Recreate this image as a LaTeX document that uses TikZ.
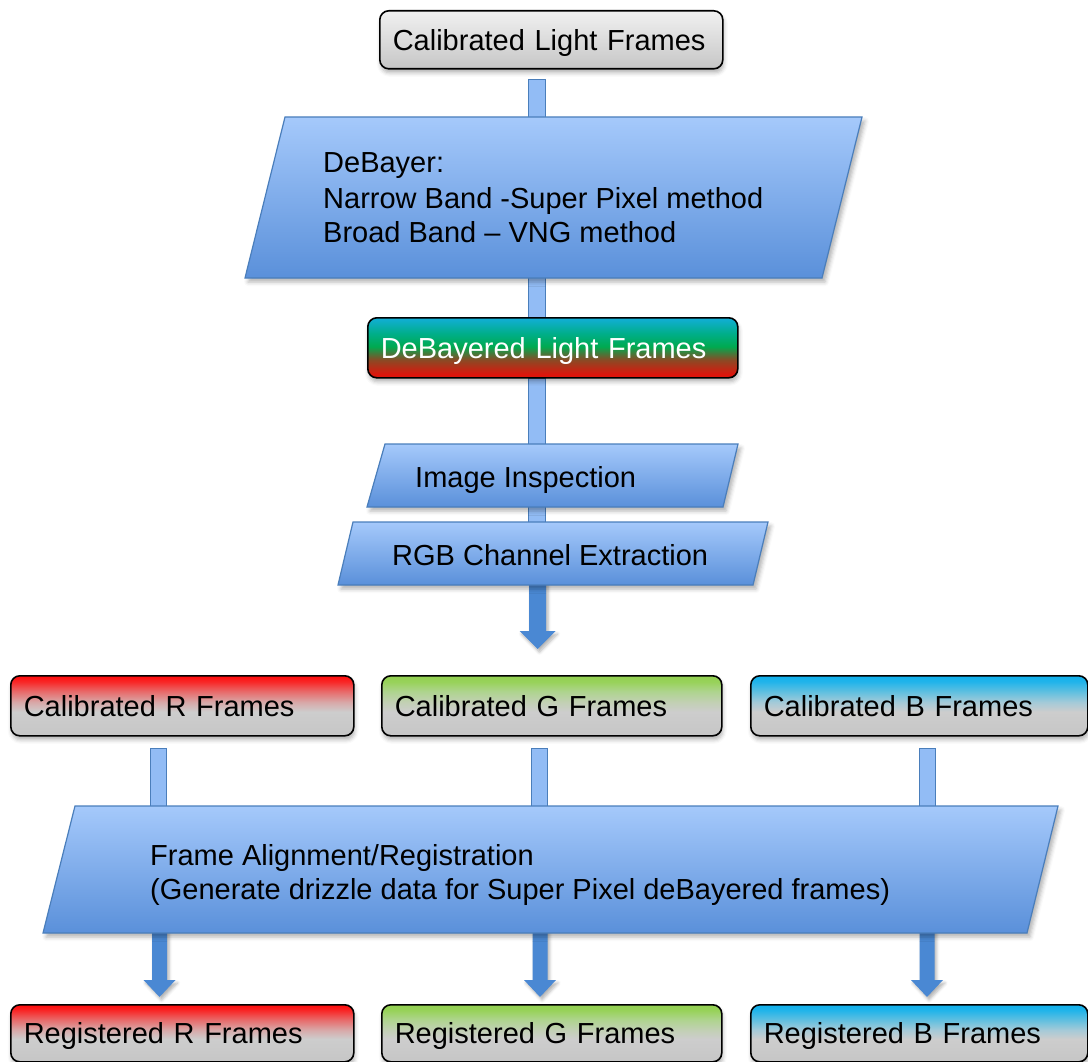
\documentclass[tikz,border=0pt]{standalone}
\usepackage{fontspec}
\setmainfont{Liberation Sans}
\usetikzlibrary{calc,shadows.blur}
\definecolor{gTop}{HTML}{F1F1F1}
\definecolor{gBot}{HTML}{C6C6C6}
\definecolor{gMid}{HTML}{CDCDCD}
\definecolor{rTop}{HTML}{FF0A0A}
\definecolor{rHi}{HTML}{F82828}
\definecolor{rMid}{HTML}{E86A6A}
\definecolor{rLow}{HTML}{D8A8A8}
\definecolor{grTop}{HTML}{92D050}
\definecolor{grHi}{HTML}{98D25A}
\definecolor{grMid}{HTML}{AED48E}
\definecolor{grLow}{HTML}{C2D0B4}
\definecolor{blTop}{HTML}{0FB0EC}
\definecolor{blHi}{HTML}{22B4EA}
\definecolor{blMid}{HTML}{5EBFE0}
\definecolor{blLow}{HTML}{A4CAD8}
\definecolor{dCyan}{HTML}{12AED8}
\definecolor{dTeal}{HTML}{00AE8A}
\definecolor{dGreen}{HTML}{00AA50}
\definecolor{dBrown}{HTML}{8A4A25}
\definecolor{dRed}{HTML}{DC160C}
\definecolor{pTop}{HTML}{A5C9FB}
\definecolor{pBot}{HTML}{5A90DA}
\definecolor{pEdge}{HTML}{4A7EBB}
\definecolor{barC}{HTML}{92BCF5}
\definecolor{arrC}{HTML}{4A88D3}
\pgfdeclareverticalshading{grayshade}{100bp}{color(0bp)=(gBot); color(25bp)=(gBot); color(75bp)=(gTop); color(100bp)=(gTop)}
\pgfdeclareverticalshading{redshade}{100bp}{color(0bp)=(gBot); color(25bp)=(gBot); color(45bp)=(gMid); color(53bp)=(rLow); color(62bp)=(rMid); color(70bp)=(rHi); color(75bp)=(rTop); color(100bp)=(rTop)}
\pgfdeclareverticalshading{greenshade}{100bp}{color(0bp)=(gBot); color(25bp)=(gBot); color(45bp)=(gMid); color(53bp)=(grLow); color(62bp)=(grMid); color(70bp)=(grHi); color(75bp)=(grTop); color(100bp)=(grTop)}
\pgfdeclareverticalshading{blueshade}{100bp}{color(0bp)=(gBot); color(25bp)=(gBot); color(45bp)=(gMid); color(53bp)=(blLow); color(62bp)=(blMid); color(70bp)=(blHi); color(75bp)=(blTop); color(100bp)=(blTop)}
\pgfdeclareverticalshading{rgbshade}{100bp}{color(0bp)=(dRed); color(28bp)=(dRed); color(40bp)=(dBrown); color(51bp)=(dGreen); color(62bp)=(dTeal); color(75bp)=(dCyan); color(100bp)=(dCyan)}
\pgfdeclarelayer{bg}
\pgfsetlayers{bg,main}
\tikzset{
  rbox/.style={draw=black, line width=1.6pt, rounded corners=9pt, inner xsep=13pt, inner ysep=0pt,
    text height=21pt, text depth=0pt, align=left, anchor=north west,
    blur shadow={shadow xshift=1pt, shadow yshift=-4pt, shadow opacity=30, shadow blur radius=4pt}},
  para/.style={draw=pEdge, line width=1.2pt, top color=pTop, bottom color=pBot,
    blur shadow={shadow xshift=3pt, shadow yshift=-4pt, shadow opacity=30, shadow blur radius=4pt}},
  ptext/.style={anchor=base west, inner sep=0pt},
  bar/.style={draw=pEdge, line width=1pt, fill=barC},
  bigarrow/.style={fill=arrC, draw=none,
    blur shadow={shadow xshift=2pt, shadow yshift=-3pt, shadow opacity=30, shadow blur radius=3pt}},
}
\begin{document}
\begin{tikzpicture}[x=1pt,y=-1pt,font=\fontsize{29}{35}\selectfont]
\useasboundingbox (0,0) rectangle (1088,1062);

% rounded boxes
\node[rbox, shading=grayshade, text width=317pt, minimum height=58pt] (clf) at (379,10) {Calibrated Light Frames};
\node[rbox, shading=rgbshade, text=white, text width=344pt, minimum height=60pt] (dlf) at (367,317) {DeBayered Light Frames};
\node[rbox, shading=redshade, text width=317pt, minimum height=60pt] (crf) at (10,675) {Calibrated R Frames};
\node[rbox, shading=greenshade, text width=314pt, minimum height=60pt] (cgf) at (381,675) {Calibrated G Frames};
\node[rbox, shading=blueshade, text width=311pt, minimum height=60pt] (cbf) at (750,675) {Calibrated B Frames};
\node[rbox, shading=redshade, text width=317pt, minimum height=57pt] (rrf) at (10,1004) {Registered R Frames};
\node[rbox, shading=greenshade, text width=314pt, minimum height=57pt] (rgf) at (381,1004) {Registered G Frames};
\node[rbox, shading=blueshade, text width=311pt, minimum height=57pt] (rbf) at (750,1004) {Registered B Frames};

% parallelograms
\path[para] (285,117) -- (862,117) -- (822,278) -- (245,278) -- cycle;
\node[ptext] (db1) at (323,173) {DeBayer:};
\node[ptext] (db2) at (323,208) {Narrow Band -Super Pixel method};
\node[ptext] (db3) at (323,242) {Broad Band – VNG method};

\path[para] (385,444) -- (738,444) -- (723,507) -- (367,507) -- cycle;
\node[ptext] (ii) at (415,487) {Image Inspection};

\path[para] (353,522) -- (768,522) -- (753,585) -- (338,585) -- cycle;
\node[ptext] (rgb) at (392,565) {RGB Channel Extraction};

\path[para] (75,806) -- (1058,806) -- (1027,933) -- (43,933) -- cycle;
\node[ptext] (fa1) at (150,865) {Frame Alignment/Registration};
\node[ptext] (fa2) at (150,899) {(Generate drizzle data for Super Pixel deBayered frames)};

% connector end points
\coordinate (dbT) at (536.5,117);
\coordinate (dbB) at (536.5,278);
\coordinate (rgbT) at (536.5,522);
\coordinate (rgbB) at (537.5,585);
\coordinate (aTip) at (537.5,649);
\coordinate (faR) at (158,806);
\coordinate (faG) at (539.5,806);
\coordinate (faB) at (927,806);
\coordinate (fbR) at (159.5,933);
\coordinate (fbG) at (540,933);
\coordinate (fbB) at (927,933);
\coordinate (tR) at (159.5,997);
\coordinate (tG) at (540,997);
\coordinate (tB) at (927,997);

\begin{pgfonlayer}{bg}
\path[bar] ($(clf.south -| dbT)+(-8.5,10)$) rectangle ($(dbT)+(8.5,6)$);
\path[bar] ($(dbB)+(-8.5,-6)$) rectangle ($(dlf.north -| dbB)+(8.5,0)$);
\path[bar] ($(dlf.south -| dbB)+(-8.5,0)$) rectangle ($(rgbT)+(8.5,6)$);
\path[bar] ($(crf.south -| faR)+(-8,12)$) rectangle ($(faR)+(8,6)$);
\path[bar] ($(cgf.south -| faG)+(-8,12)$) rectangle ($(faG)+(8,6)$);
\path[bar] ($(cbf.south -| faB)+(-8,12)$) rectangle ($(faB)+(8,6)$);
\path[bigarrow] ($(rgbB)+(-8.5,-6)$) -- ($(aTip)+(-8.5,-18)$) -- ($(aTip)+(-18,-18)$) -- (aTip)
  -- ($(aTip)+(18,-18)$) -- ($(aTip)+(8.5,-18)$) -- ($(rgbB)+(8.5,-6)$) -- cycle;
\foreach \s/\t in {fbR/tR, fbG/tG, fbB/tB}{
  \path[bigarrow] ($(\s)+(-7.5,-6)$) -- ($(\t)+(-7.5,-17)$) -- ($(\t)+(-16,-17)$) -- (\t)
    -- ($(\t)+(16,-17)$) -- ($(\t)+(7.5,-17)$) -- ($(\s)+(7.5,-6)$) -- cycle;
}
\end{pgfonlayer}
\end{tikzpicture}
\end{document}
